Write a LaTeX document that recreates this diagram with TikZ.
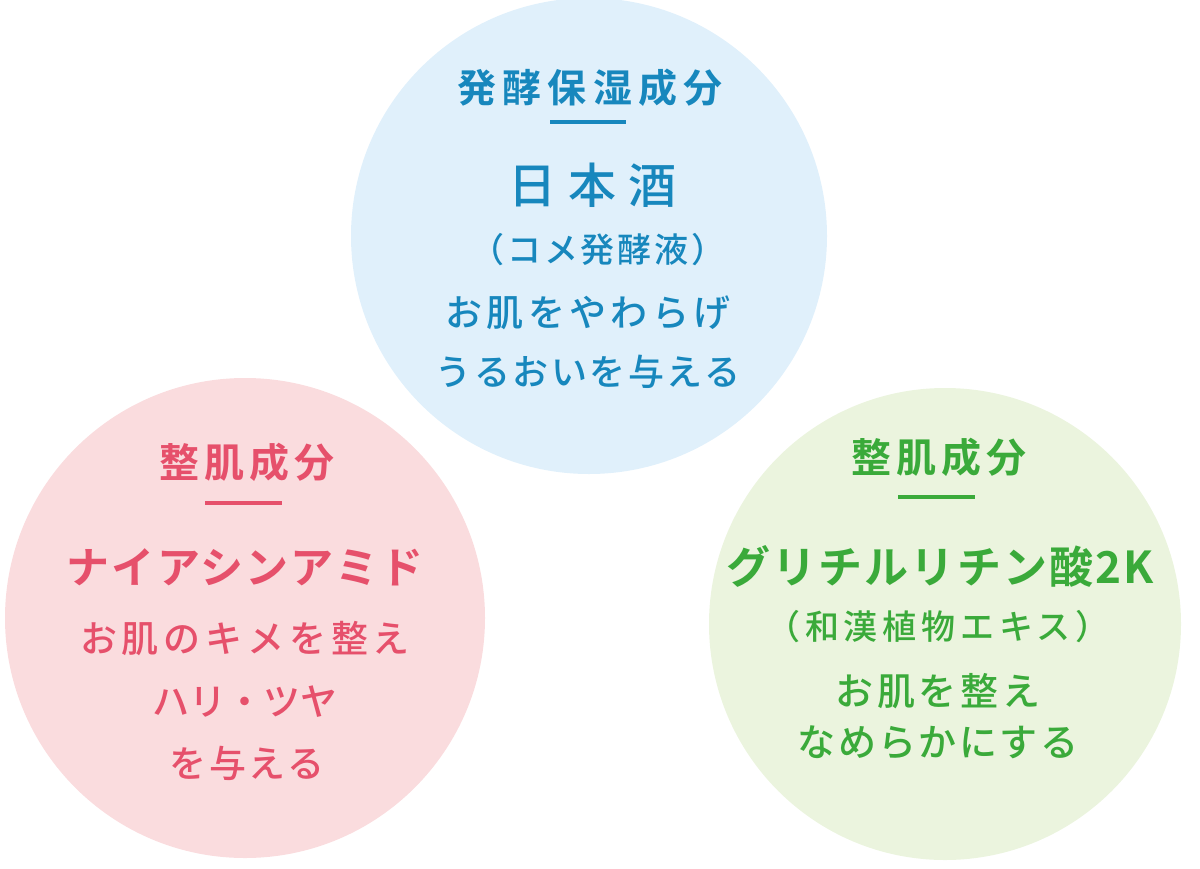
\documentclass[tikz,border=0pt]{standalone}
\usepackage{fontspec}
\setmainfont{Noto Sans CJK JP}
\newfontfamily\jpb{Noto Sans CJK JP Bold}
\newfontfamily\jpm{Noto Sans CJK JP Medium}
\definecolor{bluefill}{HTML}{E0F0FB}
\definecolor{pinkfill}{HTML}{FADCDE}
\definecolor{greenfill}{HTML}{EBF4DE}
\definecolor{bluetext}{HTML}{1787BD}
\definecolor{pinktext}{HTML}{E6506B}
\definecolor{greentext}{HTML}{3AAA3A}
\tikzset{
  disc/.style={circle, inner sep=0pt, minimum size=#1},
  lbl/.style={inner sep=0pt, anchor=center},
  bar/.style={line width=3.5pt}
}
\newcommand{\fs}[2]{\fontsize{#1}{#1}\selectfont\addfontfeatures{LetterSpace=#2}}
\begin{document}
\begin{tikzpicture}[x=1pt,y=-1pt]
\useasboundingbox (0,0) rectangle (1200,868);
% circles
\node[disc=476pt, fill=bluefill] (cb) at (589,236) {};
\node[disc=480pt, fill=pinkfill] (cp) at (245,618) {};
\node[disc=472pt, fill=greenfill] (cg) at (945,624) {};
% blue
\begin{scope}[text=bluetext]
\node[lbl] (b1) at (590,88) {\jpb\fs{39}{16}発酵保湿成分};
\coordinate (b1l) at (550,122); \coordinate (b1r) at (626,122);
\draw[bar, bluetext] (b1l) -- (b1r);
\node[lbl] (b2) at (592,185) {\jpm\fs{48}{25}日本酒};
\node[lbl] (b3) at (598,250) {\jpm\fs{34}{8}（コメ発酵液）};
\node[lbl] (b4) at (588,313) {\jpm\fs{37}{12}お肌をやわらげ};
\node[lbl] (b5) at (588,372) {\jpm\fs{36}{7}うるおいを与える};
\end{scope}
% pink
\begin{scope}[text=pinktext]
\node[lbl] (p1) at (247,462) {\jpb\fs{40}{12}整肌成分};
\coordinate (p1l) at (205,503); \coordinate (p1r) at (282,503);
\draw[bar, pinktext] (p1l) -- (p1r);
\node[lbl] (p2) at (245,567) {\jpb\fs{43}{5}ナイアシンアミド};
\node[lbl] (p3) at (245,639) {\jpm\fs{37}{13}お肌のキメを整え};
\node[lbl] (p4) at (245,702) {\jpm\fs{37}{0}ハリ・ツヤ};
\node[lbl] (p5) at (247,763) {\jpm\fs{37}{8}を与える};
\end{scope}
% green
\begin{scope}[text=greentext]
\node[lbl] (g1) at (939,457) {\jpb\fs{40}{12}整肌成分};
\coordinate (g1l) at (898,497); \coordinate (g1r) at (975,497);
\draw[bar, greentext] (g1l) -- (g1r);
\node[lbl] (g2) at (940,566) {\jpb\fs{44}{5}グリチルリチン酸2K};
\node[lbl] (g3) at (938,627) {\jpm\fs{34}{14}（和漢植物エキス）};
\node[lbl] (g4) at (938,691) {\jpm\fs{38}{10}お肌を整え};
\node[lbl] (g5) at (938,743) {\jpm\fs{38}{6}なめらかにする};
\end{scope}
\end{tikzpicture}
\end{document}
